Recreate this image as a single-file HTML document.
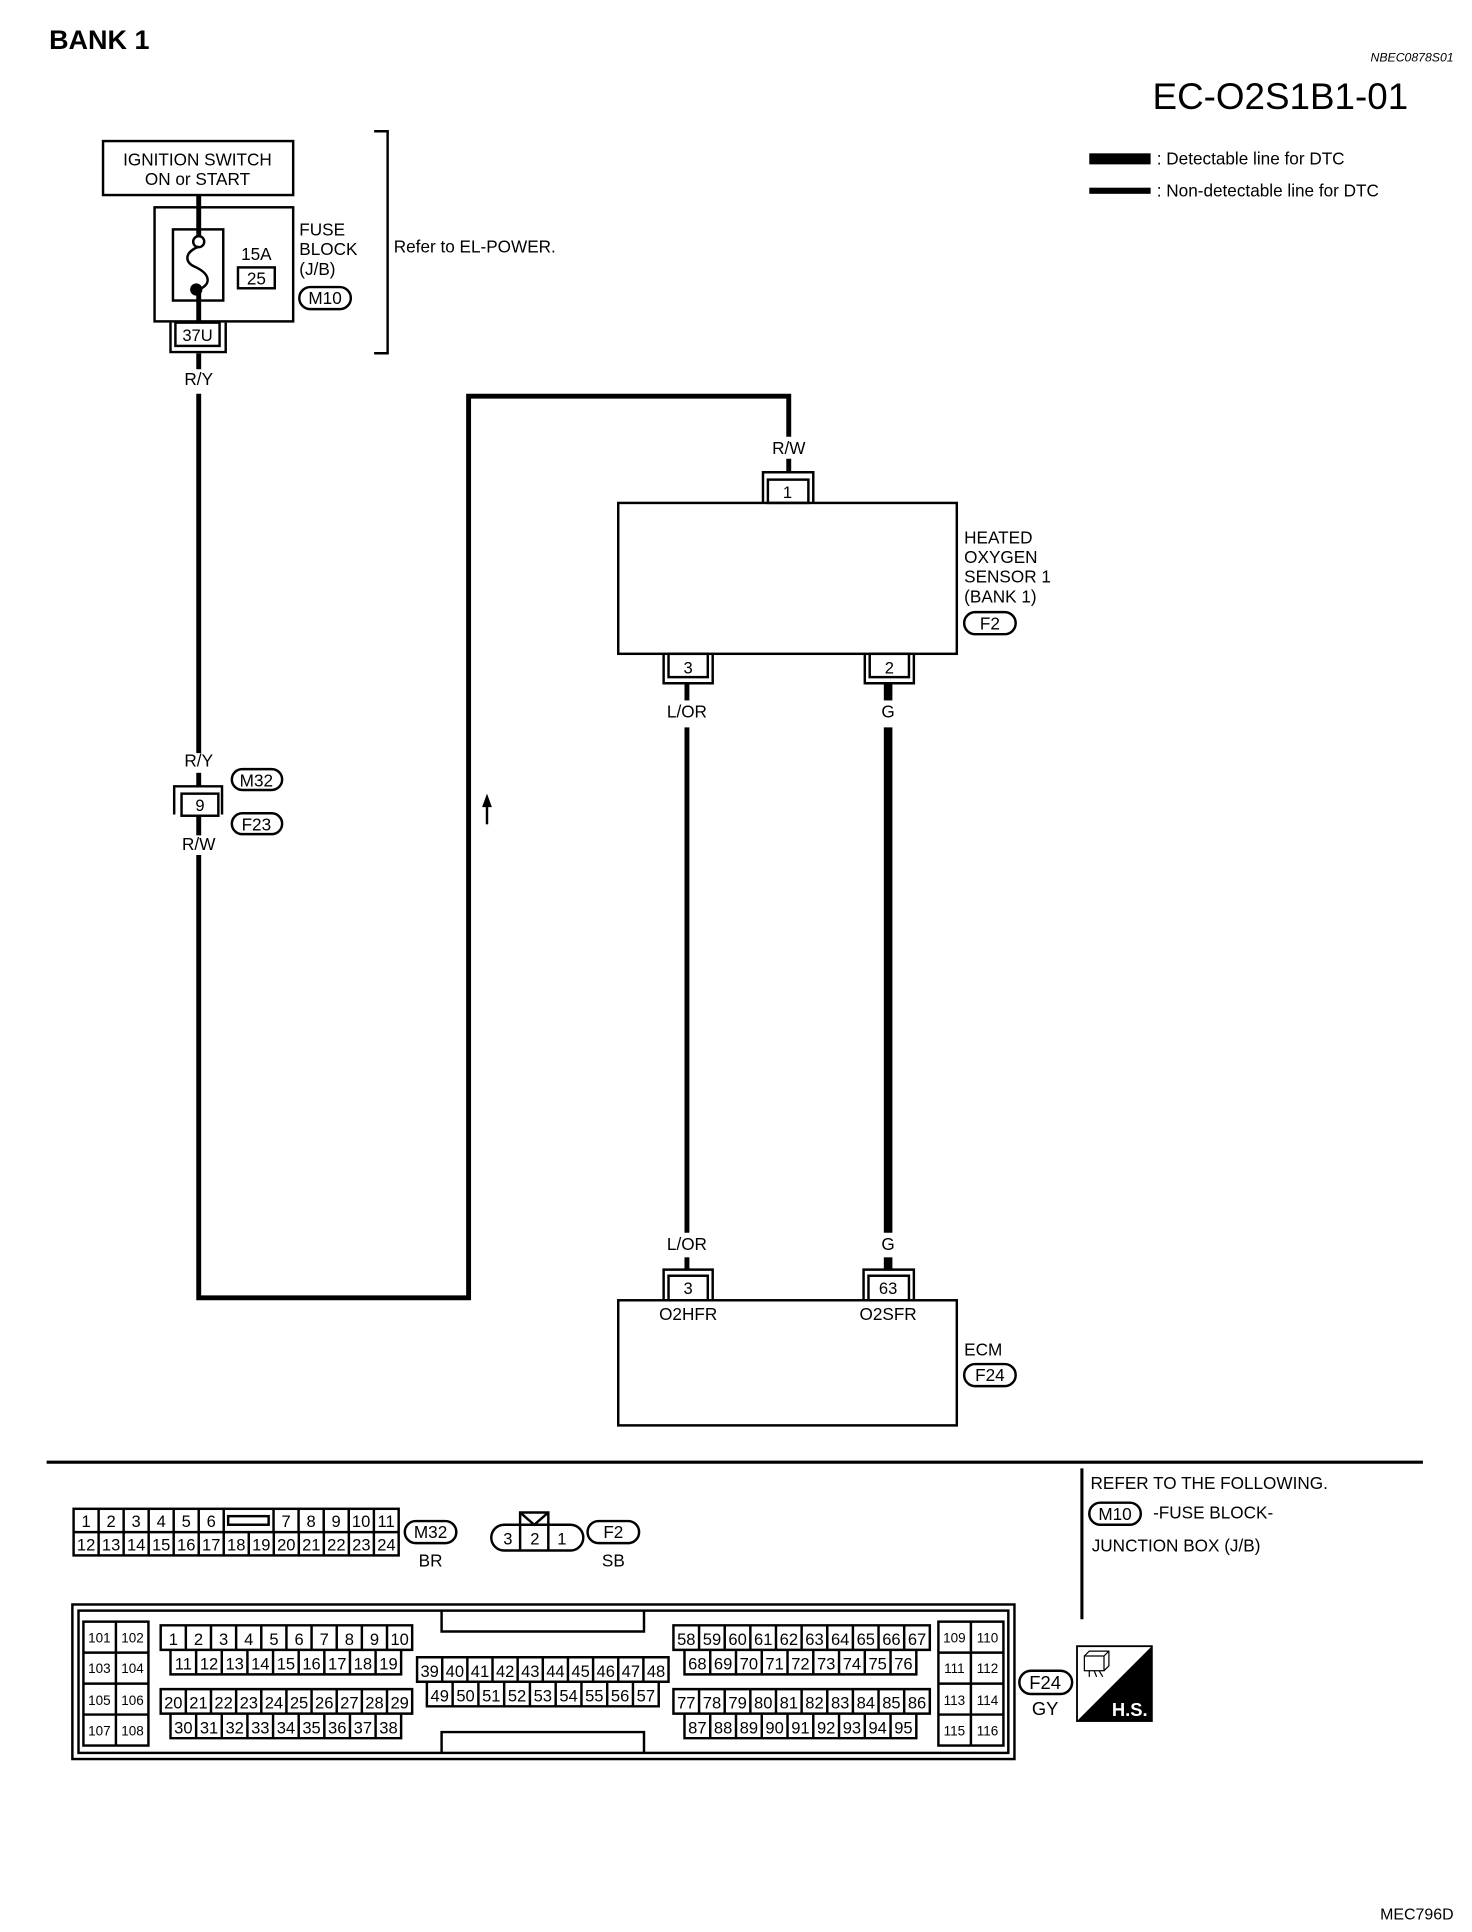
<!DOCTYPE html>
<html><head><meta charset="utf-8"><style>
html,body{margin:0;padding:0;background:#fff}
svg{display:block}
text{font-family:"Liberation Sans",sans-serif;fill:#000}
.s{font-size:14px}
.c{font-size:13.5px;text-anchor:middle}
.t{font-size:11px;text-anchor:middle}
.m{text-anchor:middle}
</style></head><body>
<svg width="1472" height="1932" viewBox="0 0 1200 1575" preserveAspectRatio="none" xmlns="http://www.w3.org/2000/svg">
<text x="40" y="40" style="font-size:22px;font-weight:bold">BANK 1</text>
<text x="1185" y="50" style="font-size:10px;font-style:italic;text-anchor:end">NBEC0878S01</text>
<text x="1148" y="89" style="font-size:30px;text-anchor:end">EC-O2S1B1-01</text>
<rect x="888" y="125" width="50" height="9" fill="#000"/>
<text x="943" y="134" class="s">: Detectable line for DTC</text>
<rect x="888" y="153" width="50" height="5" fill="#000"/>
<text x="943" y="160" class="s">: Non-detectable line for DTC</text>

<g fill="none" stroke="#000" stroke-width="2">
<rect x="84" y="115" width="155" height="44"/>
<rect x="126" y="169" width="113" height="93"/>
<rect x="141" y="187" width="41" height="58"/>
<rect x="194" y="218" width="30" height="17"/>
<path d="M305,107 H316 V288 H305"/>
<circle cx="162" cy="197" r="4.5"/>
<path d="M162,201 C150,206 150,214 160,218 C172,224 172,232 162,236"/>
<rect x="143" y="263" width="36" height="19"/>
<path d="M139,263 V287 H184 V263"/>
<rect x="244" y="234" width="42" height="18" rx="9"/>
<rect x="148" y="647" width="30" height="18"/>
<path d="M142,664 V641 H181 V664"/>
<rect x="189" y="627" width="41" height="17" rx="8.5"/>
<rect x="189" y="663" width="41" height="17" rx="8.5"/>
<rect x="504" y="410" width="276" height="123"/>
<rect x="626" y="391" width="33" height="19"/>
<path d="M622,410 V385 H663 V410"/>
<rect x="545" y="533" width="32" height="19"/>
<path d="M541,533 V557 H581 V533"/>
<rect x="709" y="533" width="32" height="19"/>
<path d="M705,533 V557 H745 V533"/>
<rect x="786" y="499" width="42" height="18" rx="9"/>
<rect x="504" y="1060" width="276" height="102"/>
<rect x="545" y="1040" width="32" height="20"/>
<path d="M541,1060 V1035 H581 V1060"/>
<rect x="708" y="1040" width="33" height="20"/>
<path d="M704,1060 V1035 H745 V1060"/>
<rect x="786" y="1112" width="42" height="18" rx="9"/>
</g>
<g fill="none" stroke="#000" stroke-width="4">
<line x1="162" y1="159" x2="162" y2="193"/>
<line x1="162" y1="236" x2="162" y2="263"/>
<line x1="162" y1="288" x2="162" y2="301"/>
<line x1="162" y1="321" x2="162" y2="614"/>
<line x1="162" y1="630" x2="162" y2="641"/>
<line x1="162" y1="665" x2="162" y2="681"/>
<path d="M162,697 V1058 H382 V323 H643 V356"/>
<line x1="643" y1="374" x2="643" y2="385"/>
<line x1="560" y1="557" x2="560" y2="571"/>
<line x1="560" y1="593" x2="560" y2="1005"/>
<line x1="560" y1="1025" x2="560" y2="1035"/>
</g>
<g stroke="#000" stroke-width="7">
<line x1="724" y1="557" x2="724" y2="571"/>
<line x1="724" y1="593" x2="724" y2="1005"/>
<line x1="724" y1="1025" x2="724" y2="1035"/>
</g>
<line x1="397" y1="672" x2="397" y2="655" stroke="#000" stroke-width="2"/>
<path d="M393,658 L397,647 L401,658 Z" fill="#000"/>
<circle cx="160" cy="236" r="5" fill="#000"/>

<text x="161" y="135" class="s m">IGNITION SWITCH</text>
<text x="161" y="151" class="s m">ON or START</text>
<text x="209" y="212" class="s m">15A</text>
<text x="209" y="232" class="s m">25</text>
<text x="244" y="192" class="s">FUSE</text>
<text x="244" y="208" class="s">BLOCK</text>
<text x="244" y="224" class="s">(J/B)</text>
<text x="265" y="248" class="s m">M10</text>
<text x="161" y="278" class="c">37U</text>
<text x="321" y="206" class="s">Refer to EL-POWER.</text>
<text x="162" y="314" class="s m">R/Y</text>
<text x="162" y="625" class="s m">R/Y</text>
<text x="163" y="661" class="c">9</text>
<text x="209" y="641" class="s m">M32</text>
<text x="209" y="677" class="s m">F23</text>
<text x="162" y="693" class="s m">R/W</text>
<text x="643" y="370" class="s m">R/W</text>
<text x="642" y="406" class="c">1</text>
<text x="786" y="443" class="s">HEATED</text>
<text x="786" y="459" class="s">OXYGEN</text>
<text x="786" y="475" class="s">SENSOR 1</text>
<text x="786" y="491" class="s">(BANK 1)</text>
<text x="807" y="513" class="s m">F2</text>
<text x="561" y="549" class="c">3</text>
<text x="725" y="549" class="c">2</text>
<text x="560" y="585" class="s m">L/OR</text>
<text x="724" y="585" class="s m">G</text>
<text x="560" y="1019" class="s m">L/OR</text>
<text x="724" y="1019" class="s m">G</text>
<text x="561" y="1055" class="c">3</text>
<text x="724" y="1055" class="c">63</text>
<text x="561" y="1076" class="s m">O2HFR</text>
<text x="724" y="1076" class="s m">O2SFR</text>
<text x="786" y="1105" class="s">ECM</text>
<text x="807" y="1126" class="s m">F24</text>

<line x1="38" y1="1192" x2="1160" y2="1192" stroke="#000" stroke-width="2.5"/>
<line x1="882" y1="1197" x2="882" y2="1320" stroke="#000" stroke-width="2.5"/>
<text x="889" y="1214" class="s">REFER TO THE FOLLOWING.</text>
<rect x="888" y="1225" width="42" height="18" rx="9" fill="none" stroke="#000" stroke-width="2"/>
<text x="909" y="1239" class="s m">M10</text>
<text x="940" y="1238" class="s">-FUSE BLOCK-</text>
<text x="890" y="1265" class="s">JUNCTION BOX (J/B)</text>

<g fill="none" stroke="#000" stroke-width="2">
<rect x="60" y="1230" width="265" height="38"/>
<line x1="60" y1="1249" x2="325" y2="1249"/>
<path d="M80.4,1230V1249M100.8,1230V1249M121.2,1230V1249M141.6,1230V1249M162,1230V1249M182.4,1230V1249M223,1230V1249M243.4,1230V1249M263.9,1230V1249M284.3,1230V1249M304.8,1230V1249"/>
<path d="M80.4,1249V1268M100.8,1249V1268M121.2,1249V1268M141.6,1249V1268M162,1249V1268M182.4,1249V1268M202.8,1249V1268M223.2,1249V1268M243.6,1249V1268M264,1249V1268M284.4,1249V1268M304.8,1249V1268"/>
<rect x="186" y="1236" width="33" height="7"/>
<rect x="330" y="1240" width="42" height="18" rx="9"/>
<path d="M411,1243 H465 A10,10 0 0 1 465,1264 H411 A10,10 0 0 1 411,1243 Z"/>
<path d="M424,1243 V1264 M447,1243 V1264 M424,1243 V1233 H447 V1243 M424,1233 L435.5,1243 L447,1233"/>
<rect x="479" y="1240" width="42" height="18" rx="9"/>
</g>
<text x="70.2" y="1245" class="c">1</text><text x="90.6" y="1245" class="c">2</text><text x="111" y="1245" class="c">3</text><text x="131.4" y="1245" class="c">4</text><text x="151.8" y="1245" class="c">5</text><text x="172.2" y="1245" class="c">6</text>
<text x="233.2" y="1245" class="c">7</text><text x="253.6" y="1245" class="c">8</text><text x="274" y="1245" class="c">9</text><text x="294.4" y="1245" class="c">10</text><text x="314.8" y="1245" class="c">11</text>
<text x="70.2" y="1264" class="c">12</text><text x="90.6" y="1264" class="c">13</text><text x="111" y="1264" class="c">14</text><text x="131.4" y="1264" class="c">15</text><text x="151.8" y="1264" class="c">16</text><text x="172.2" y="1264" class="c">17</text><text x="192.6" y="1264" class="c">18</text><text x="213" y="1264" class="c">19</text><text x="233.4" y="1264" class="c">20</text><text x="253.8" y="1264" class="c">21</text><text x="274.2" y="1264" class="c">22</text><text x="294.6" y="1264" class="c">23</text><text x="315" y="1264" class="c">24</text>
<text x="351" y="1254" class="s m">M32</text>
<text x="351" y="1277" class="s m">BR</text>
<text x="414" y="1259" class="c">3</text><text x="436" y="1259" class="c">2</text><text x="458" y="1259" class="c">1</text>
<text x="500" y="1254" class="s m">F2</text>
<text x="500" y="1277" class="s m">SB</text>

<g fill="none" stroke="#000" stroke-width="2">
<rect x="59" y="1308" width="768" height="126"/>
<rect x="64" y="1313" width="758" height="116"/>
<path d="M360,1313 V1330 H525 V1313 M360,1429 V1412 H525 V1429"/>
<rect x="68" y="1322" width="53" height="101"/>
<path d="M94.5,1322V1423M68,1347.25H121M68,1372.5H121M68,1397.75H121"/>
<rect x="765" y="1322" width="53" height="101"/>
<path d="M791.5,1322V1423M765,1347.25H818M765,1372.5H818M765,1397.75H818"/>
<path d="M131,1325H336V1345H327V1365H139V1345H131Z M131,1345H336"/>
<path d="M151.5,1325V1345M172,1325V1345M192.5,1325V1345M213,1325V1345M233.5,1325V1345M254,1325V1345M274.5,1325V1345M295,1325V1345M315.5,1325V1345"/>
<path d="M159.9,1345V1365M180.8,1345V1365M201.7,1345V1365M222.6,1345V1365M243.5,1345V1365M264.4,1345V1365M285.3,1345V1365M306.2,1345V1365"/>
<path d="M131,1377H336V1397H327V1417H139V1397H131Z M131,1397H336"/>
<path d="M151.5,1377V1397M172,1377V1397M192.5,1377V1397M213,1377V1397M233.5,1377V1397M254,1377V1397M274.5,1377V1397M295,1377V1397M315.5,1377V1397"/>
<path d="M159.9,1397V1417M180.8,1397V1417M201.7,1397V1417M222.6,1397V1417M243.5,1397V1417M264.4,1397V1417M285.3,1397V1417M306.2,1397V1417"/>
<path d="M340,1351H545V1371H537V1391H348V1371H340Z M340,1371H545"/>
<path d="M360.5,1351V1371M381,1351V1371M401.5,1351V1371M422,1351V1371M442.5,1351V1371M463,1351V1371M483.5,1351V1371M504,1351V1371M524.5,1351V1371"/>
<path d="M369,1371V1391M390,1371V1391M411,1371V1391M432,1371V1391M453,1371V1391M474,1371V1391M495,1371V1391M516,1371V1391"/>
<path d="M549,1325H758V1345H747V1365H558V1345H549Z M549,1345H758"/>
<path d="M569.9,1325V1345M590.8,1325V1345M611.7,1325V1345M632.6,1325V1345M653.5,1325V1345M674.4,1325V1345M695.3,1325V1345M716.2,1325V1345M737.1,1325V1345"/>
<path d="M579,1345V1365M600,1345V1365M621,1345V1365M642,1345V1365M663,1345V1365M684,1345V1365M705,1345V1365M726,1345V1365"/>
<path d="M549,1377H758V1397H747V1417H558V1397H549Z M549,1397H758"/>
<path d="M569.9,1377V1397M590.8,1377V1397M611.7,1377V1397M632.6,1377V1397M653.5,1377V1397M674.4,1377V1397M695.3,1377V1397M716.2,1377V1397M737.1,1377V1397"/>
<path d="M579,1397V1417M600,1397V1417M621,1397V1417M642,1397V1417M663,1397V1417M684,1397V1417M705,1397V1417M726,1397V1417"/>
<rect x="831" y="1362" width="43" height="19" rx="9.5"/>
</g>
<text x="81" y="1339" class="t">101</text><text x="108" y="1339" class="t">102</text>
<text x="81" y="1364" class="t">103</text><text x="108" y="1364" class="t">104</text>
<text x="81" y="1390" class="t">105</text><text x="108" y="1390" class="t">106</text>
<text x="81" y="1415" class="t">107</text><text x="108" y="1415" class="t">108</text>
<text x="778" y="1339" class="t">109</text><text x="805" y="1339" class="t">110</text>
<text x="778" y="1364" class="t">111</text><text x="805" y="1364" class="t">112</text>
<text x="778" y="1390" class="t">113</text><text x="805" y="1390" class="t">114</text>
<text x="778" y="1415" class="t">115</text><text x="805" y="1415" class="t">116</text>

<text x="141.3" y="1341" class="c">1</text><text x="161.8" y="1341" class="c">2</text><text x="182.3" y="1341" class="c">3</text><text x="202.8" y="1341" class="c">4</text><text x="223.3" y="1341" class="c">5</text><text x="243.8" y="1341" class="c">6</text><text x="264.3" y="1341" class="c">7</text><text x="284.8" y="1341" class="c">8</text><text x="305.3" y="1341" class="c">9</text><text x="325.8" y="1341" class="c">10</text>
<text x="149.5" y="1361" class="c">11</text><text x="170.4" y="1361" class="c">12</text><text x="191.3" y="1361" class="c">13</text><text x="212.2" y="1361" class="c">14</text><text x="233.1" y="1361" class="c">15</text><text x="254" y="1361" class="c">16</text><text x="274.9" y="1361" class="c">17</text><text x="295.8" y="1361" class="c">18</text><text x="316.7" y="1361" class="c">19</text>
<text x="141.3" y="1393" class="c">20</text><text x="161.8" y="1393" class="c">21</text><text x="182.3" y="1393" class="c">22</text><text x="202.8" y="1393" class="c">23</text><text x="223.3" y="1393" class="c">24</text><text x="243.8" y="1393" class="c">25</text><text x="264.3" y="1393" class="c">26</text><text x="284.8" y="1393" class="c">27</text><text x="305.3" y="1393" class="c">28</text><text x="325.8" y="1393" class="c">29</text>
<text x="149.5" y="1413" class="c">30</text><text x="170.4" y="1413" class="c">31</text><text x="191.3" y="1413" class="c">32</text><text x="212.2" y="1413" class="c">33</text><text x="233.1" y="1413" class="c">34</text><text x="254" y="1413" class="c">35</text><text x="274.9" y="1413" class="c">36</text><text x="295.8" y="1413" class="c">37</text><text x="316.7" y="1413" class="c">38</text>
<text x="350.3" y="1367" class="c">39</text><text x="370.8" y="1367" class="c">40</text><text x="391.3" y="1367" class="c">41</text><text x="411.8" y="1367" class="c">42</text><text x="432.3" y="1367" class="c">43</text><text x="452.8" y="1367" class="c">44</text><text x="473.3" y="1367" class="c">45</text><text x="493.8" y="1367" class="c">46</text><text x="514.3" y="1367" class="c">47</text><text x="534.8" y="1367" class="c">48</text>
<text x="358.5" y="1387" class="c">49</text><text x="379.5" y="1387" class="c">50</text><text x="400.5" y="1387" class="c">51</text><text x="421.5" y="1387" class="c">52</text><text x="442.5" y="1387" class="c">53</text><text x="463.5" y="1387" class="c">54</text><text x="484.5" y="1387" class="c">55</text><text x="505.5" y="1387" class="c">56</text><text x="526.5" y="1387" class="c">57</text>
<text x="559.5" y="1341" class="c">58</text><text x="580.4" y="1341" class="c">59</text><text x="601.3" y="1341" class="c">60</text><text x="622.2" y="1341" class="c">61</text><text x="643.1" y="1341" class="c">62</text><text x="664" y="1341" class="c">63</text><text x="684.9" y="1341" class="c">64</text><text x="705.8" y="1341" class="c">65</text><text x="726.7" y="1341" class="c">66</text><text x="747.6" y="1341" class="c">67</text>
<text x="568.5" y="1361" class="c">68</text><text x="589.5" y="1361" class="c">69</text><text x="610.5" y="1361" class="c">70</text><text x="631.5" y="1361" class="c">71</text><text x="652.5" y="1361" class="c">72</text><text x="673.5" y="1361" class="c">73</text><text x="694.5" y="1361" class="c">74</text><text x="715.5" y="1361" class="c">75</text><text x="736.5" y="1361" class="c">76</text>
<text x="559.5" y="1393" class="c">77</text><text x="580.4" y="1393" class="c">78</text><text x="601.3" y="1393" class="c">79</text><text x="622.2" y="1393" class="c">80</text><text x="643.1" y="1393" class="c">81</text><text x="664" y="1393" class="c">82</text><text x="684.9" y="1393" class="c">83</text><text x="705.8" y="1393" class="c">84</text><text x="726.7" y="1393" class="c">85</text><text x="747.6" y="1393" class="c">86</text>
<text x="568.5" y="1413" class="c">87</text><text x="589.5" y="1413" class="c">88</text><text x="610.5" y="1413" class="c">89</text><text x="631.5" y="1413" class="c">90</text><text x="652.5" y="1413" class="c">91</text><text x="673.5" y="1413" class="c">92</text><text x="694.5" y="1413" class="c">93</text><text x="715.5" y="1413" class="c">94</text><text x="736.5" y="1413" class="c">95</text>

<text x="852" y="1377" class="s m" style="font-size:15px">F24</text>
<text x="852" y="1398" class="s m" style="font-size:15px">GY</text>
<rect x="878" y="1342" width="61" height="61" fill="none" stroke="#000" stroke-width="1.5"/>
<path d="M939,1342 V1403 H878 Z" fill="#000"/>
<g fill="none" stroke="#000" stroke-width="1">
<rect x="884" y="1350" width="16" height="12"/>
<path d="M884,1350 l4,-4 h16 v12 l-4,4 M900,1350 l4,-4 M888,1362 v5 M892,1362 l2,5 M896,1362 l3,5"/>
</g>
<text x="921" y="1399" style="font-size:15px;font-weight:bold;fill:#fff;text-anchor:middle">H.S.</text>

<text x="1185" y="1565" style="font-size:13px;text-anchor:end">MEC796D</text>
</svg>
</body></html>
